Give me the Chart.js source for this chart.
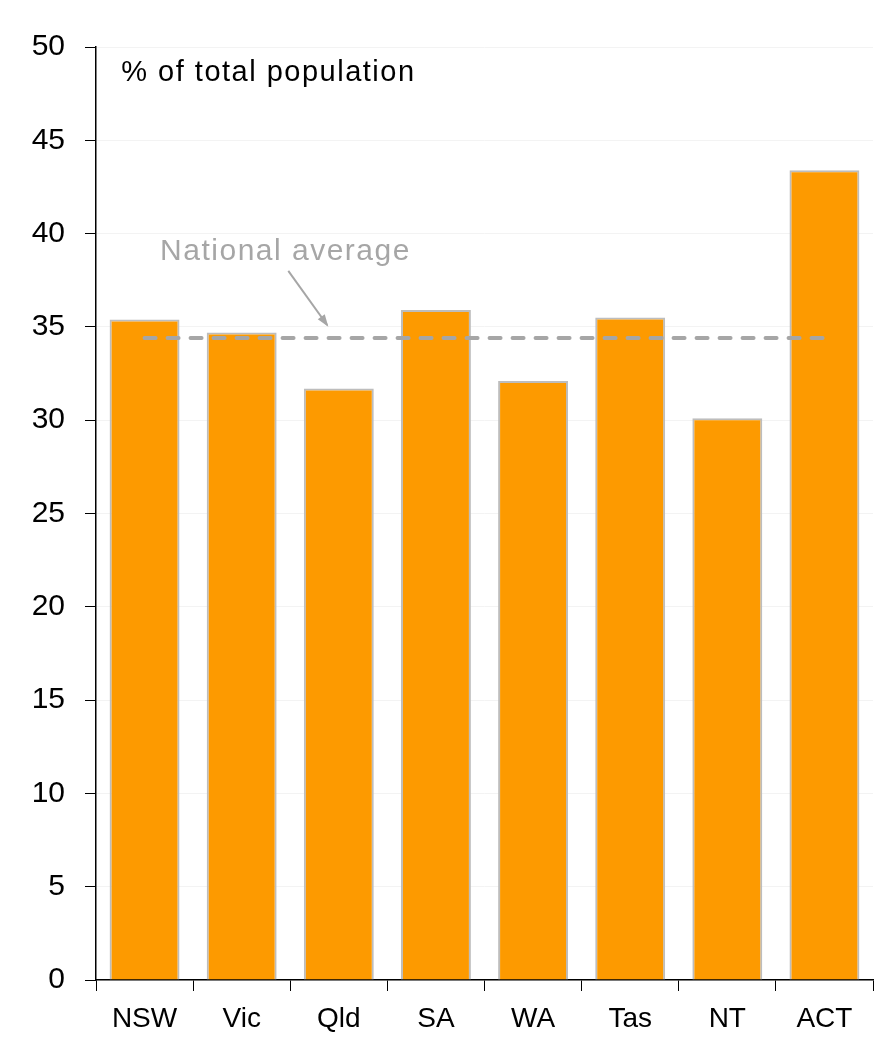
<!DOCTYPE html>
<html>
<head>
<meta charset="utf-8">
<script src="https://cdn.jsdelivr.net/npm/chart.js@4/dist/chart.umd.min.js"></script>
<style>
  html, body { margin: 0; padding: 0; background: #fff; }
  #wrap { width: 883px; height: 1046px; position: relative; }
</style>
</head>
<body>
<div id="wrap"><canvas id="myChart"></canvas></div>
<script>
const states = ["NSW", "Vic", "Qld", "SA", "WA", "Tas", "NT", "ACT"]
const shares = [35.4, 34.7, 31.7, 35.9, 32.1, 35.5, 30.1, 43.4]
const nationalAvg = 34.4
const avgLine = states.map(() => nationalAvg)
const yTicks = [0, 5, 10, 15, 20, 25, 30, 35, 40, 45, 50]

const fontName = "'Liberation Sans', Arial, sans-serif"

// text + arrow, placed by scale values
const notes = {
  id: "notes",
  afterDatasetsDraw: chart => {
    const ctx = chart.ctx
    const x = chart.scales.x
    const y = chart.scales.y
    ctx.save()
    ctx.textBaseline = "alphabetic"
    ctx.letterSpacing = "1.5px"
    ctx.font = "29px " + fontName
    ctx.fillStyle = "#000"
    ctx.fillText("% of total population", x.getPixelForValue(-0.24), y.getPixelForValue(48.2))

    ctx.font = "30px " + fontName
    ctx.fillStyle = "#a6a6a6"
    ctx.fillText("National average", x.getPixelForValue(0.16), y.getPixelForValue(38.6))
    ctx.letterSpacing = "0px"

    const x1 = x.getPixelForValue(1.48), y1 = y.getPixelForValue(38.0)
    const x2 = x.getPixelForValue(1.88), y2 = y.getPixelForValue(35.1)
    ctx.strokeStyle = "#a6a6a6"
    ctx.lineWidth = 2
    ctx.beginPath()
    ctx.moveTo(x1, y1)
    ctx.lineTo(x2, y2)
    ctx.stroke()
    const ang = Math.atan2(y2 - y1, x2 - x1)
    ctx.beginPath()
    ctx.moveTo(x2 + 2 * Math.cos(ang), y2 + 2 * Math.sin(ang))
    ctx.lineTo(x2 - 11 * Math.cos(ang - 0.4), y2 - 11 * Math.sin(ang - 0.4))
    ctx.lineTo(x2 - 11 * Math.cos(ang + 0.4), y2 - 11 * Math.sin(ang + 0.4))
    ctx.closePath()
    ctx.fillStyle = "#a6a6a6"
    ctx.fill()
    ctx.restore()
  }
}

const myChart = new Chart(document.getElementById("myChart"), {
  type: "bar",
  data: {
    labels: states,
    datasets: [
      {
        type: "line",
        data: avgLine,
        borderColor: "#a6a6a6",
        borderWidth: 4,
        borderDash: [11, 12],
        borderCapStyle: "round",
        pointRadius: 0,
        fill: false,
        order: 0
      },
      {
        data: shares,
        backgroundColor: "#fd9a00",
        borderColor: "#bdbdbd",
        borderWidth: 2,
        barPercentage: 0.72,
        categoryPercentage: 1,
        order: 1
      }
    ]
  },
  options: {
    responsive: true,
    maintainAspectRatio: false,
    animation: false,
    layout: { padding: { left: 0, right: 10, top: 47, bottom: 0 } },
    plugins: { legend: { display: false }, tooltip: { enabled: false } },
    scales: {
      y: {
        min: 0,
        max: 50,
        afterBuildTicks: axis => { axis.ticks = yTicks.map(v => ({ value: v })) },
        afterFit: axis => { axis.width = 96 },
        border: { color: "#000", width: 1.5 },
        grid: { color: "#f3f3f3", tickColor: "#000", tickLength: 11, lineWidth: 1 },
        ticks: { color: "#000", font: { size: 30, family: fontName }, padding: 20 }
      },
      x: {
        afterFit: axis => { axis.height = 66 },
        border: { color: "#000", width: 1.5 },
        grid: { drawOnChartArea: false, tickColor: "#000", tickLength: 11, offset: true },
        ticks: { color: "#000", font: { size: 28, family: fontName }, padding: 11 }
      }
    }
  },
  plugins: [notes]
})
</script>
</body>
</html>
